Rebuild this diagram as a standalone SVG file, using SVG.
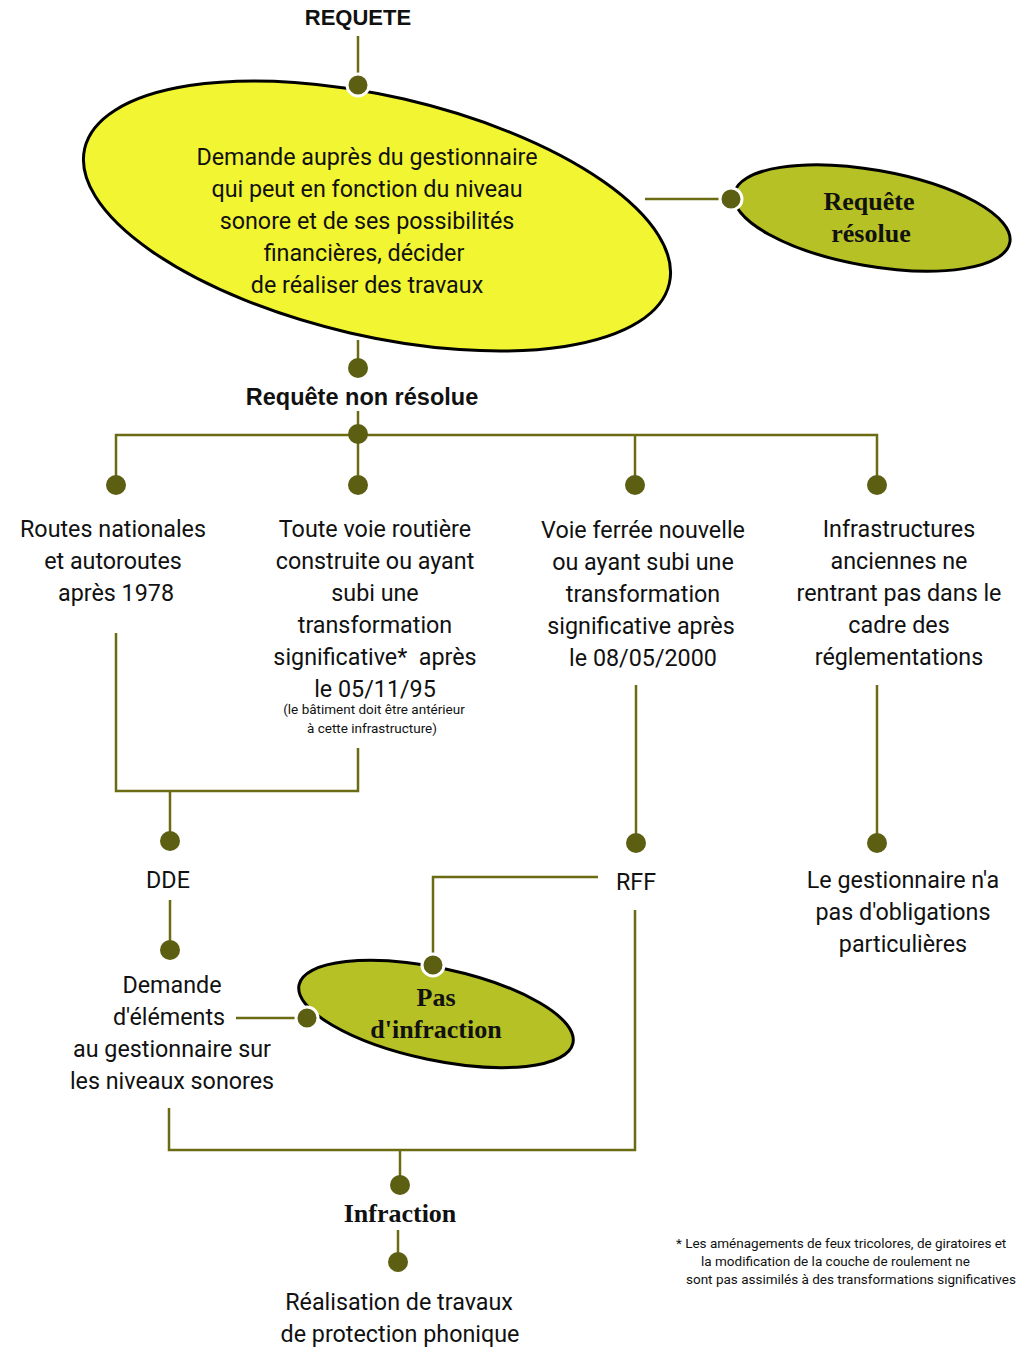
<svg xmlns="http://www.w3.org/2000/svg" width="1022" height="1347" viewBox="0 0 1022 1347">
<style>
.t{font-family:Roboto,"Liberation Sans",sans-serif;font-size:23.3px;fill:#111;text-anchor:middle}
.s{font-family:Roboto,"Liberation Sans",sans-serif;font-size:13.5px;fill:#111;text-anchor:middle}
.f{font-family:Roboto,"Liberation Sans",sans-serif;font-size:13.5px;fill:#111}
.bs{font-family:"Liberation Sans",Arial,sans-serif;font-weight:bold;fill:#111;text-anchor:middle}
.bf{font-family:"Liberation Serif","Times New Roman",serif;font-weight:bold;font-size:26px;fill:#111;text-anchor:middle}
.c{fill:none;stroke:#6b6b14;stroke-width:2.5}
.d{fill:#5c5e12}
.dw{fill:#5c5e12;stroke:#fff;stroke-width:3}
.e1{fill:#f2f531;stroke:#000;stroke-width:3}
.e2{fill:#b5c124;stroke:#000;stroke-width:3}
</style>
<rect width="1022" height="1347" fill="#fff"/>
<g id="connectors">
<path class="c" d="M358 36V85"/>
<path class="c" d="M645 199H731"/>
<path class="c" d="M358 340V368"/>
<path class="c" d="M358 411V485"/>
<path class="c" d="M116 485V435H877V485"/>
<path class="c" d="M635 435V485"/>
<path class="c" d="M116 633V791H358V748"/>
<path class="c" d="M170 791V841"/>
<path class="c" d="M170 900V950"/>
<path class="c" d="M636 685V843"/>
<path class="c" d="M877 685V843"/>
<path class="c" d="M598 877H433V965"/>
<path class="c" d="M236 1018H307"/>
<path class="c" d="M635 910V1150H169V1108"/>
<path class="c" d="M400 1150V1185"/>
<path class="c" d="M398 1230V1262"/>
</g>
<g id="requete"><text class="bs" x="358" y="25" font-size="22">REQUETE</text></g>
<g id="demande-gestionnaire">
<ellipse class="e1" cx="377" cy="216" rx="300" ry="120" transform="rotate(13 377 216)"/>
<text class="t" x="367" y="165">Demande auprès du gestionnaire</text>
<text class="t" x="367" y="197">qui peut en fonction du niveau</text>
<text class="t" x="367" y="229">sonore et de ses possibilités</text>
<text class="t" x="364" y="261">financières, décider</text>
<text class="t" x="367" y="293">de réaliser des travaux</text>
</g>
<g id="requete-resolue">
<ellipse class="e2" cx="872" cy="218" rx="140" ry="48" transform="rotate(10 872 218)"/>
<text class="bf" x="869" y="210">Requête</text>
<text class="bf" x="871" y="242">résolue</text>
</g>
<g id="non-resolue"><text class="bs" x="362" y="405" font-size="23.5">Requête non résolue</text></g>
<g id="routes-nationales">
<text class="t" x="113" y="537">Routes nationales</text>
<text class="t" x="113" y="569">et autoroutes</text>
<text class="t" x="116" y="601">après 1978</text>
</g>
<g id="voie-routiere">
<text class="t" x="375" y="537">Toute voie routière</text>
<text class="t" x="375" y="569">construite ou ayant</text>
<text class="t" x="375" y="601">subi une</text>
<text class="t" x="375" y="633">transformation</text>
<text class="t" x="375" y="665" xml:space="preserve">significative*  après</text>
<text class="t" x="375" y="697">le 05/11/95</text>
<text class="s" x="374" y="714">(le bâtiment doit être antérieur</text>
<text class="s" x="372" y="733">à cette infrastructure)</text>
</g>
<g id="voie-ferree">
<text class="t" x="643" y="538">Voie ferrée nouvelle</text>
<text class="t" x="643" y="570">ou ayant subi une</text>
<text class="t" x="643" y="602">transformation</text>
<text class="t" x="641" y="634">significative après</text>
<text class="t" x="643" y="666">le 08/05/2000</text>
</g>
<g id="infrastructures-anciennes">
<text class="t" x="899" y="537">Infrastructures</text>
<text class="t" x="899" y="569">anciennes ne</text>
<text class="t" x="899" y="601">rentrant pas dans le</text>
<text class="t" x="899" y="633">cadre des</text>
<text class="t" x="899" y="665">réglementations</text>
</g>
<g id="dde"><text class="t" x="168" y="888">DDE</text></g>
<g id="rff"><text class="t" x="636" y="890">RFF</text></g>
<g id="pas-obligations">
<text class="t" x="903" y="888">Le gestionnaire n'a</text>
<text class="t" x="903" y="920">pas d'obligations</text>
<text class="t" x="903" y="952">particulières</text>
</g>
<g id="demande-elements">
<text class="t" x="172" y="993">Demande</text>
<text class="t" x="169" y="1025">d'éléments</text>
<text class="t" x="172" y="1057">au gestionnaire sur</text>
<text class="t" x="172" y="1089">les niveaux sonores</text>
</g>
<g id="pas-infraction">
<ellipse class="e2" cx="436" cy="1014" rx="140" ry="46" transform="rotate(12 436 1014)"/>
<text class="bf" x="436" y="1006">Pas</text>
<text class="bf" x="436" y="1038">d'infraction</text>
</g>
<g id="infraction"><text class="bf" x="400" y="1222">Infraction</text></g>
<g id="realisation">
<text class="t" x="399" y="1310">Réalisation de travaux</text>
<text class="t" x="400" y="1342">de protection phonique</text>
</g>
<g id="footnote">
<text class="f" x="676" y="1248">* Les aménagements de feux tricolores, de giratoires et</text>
<text class="f" x="701" y="1266">la modification de la couche de roulement ne</text>
<text class="f" x="686" y="1284">sont pas assimilés à des transformations significatives</text>
</g>
<g id="dots">
<circle class="dw" cx="358" cy="85" r="11"/>
<circle class="dw" cx="731" cy="199" r="11"/>
<circle class="d" cx="358" cy="368" r="10"/>
<circle class="d" cx="358" cy="434" r="10"/>
<circle class="d" cx="116" cy="485" r="10"/>
<circle class="d" cx="358" cy="485" r="10"/>
<circle class="d" cx="635" cy="485" r="10"/>
<circle class="d" cx="877" cy="485" r="10"/>
<circle class="d" cx="170" cy="841" r="10"/>
<circle class="d" cx="170" cy="950" r="10"/>
<circle class="d" cx="636" cy="843" r="10"/>
<circle class="d" cx="877" cy="843" r="10"/>
<circle class="dw" cx="433" cy="965" r="11"/>
<circle class="dw" cx="307" cy="1018" r="11"/>
<circle class="d" cx="400" cy="1185" r="10"/>
<circle class="d" cx="398" cy="1262" r="10"/>
</g>
</svg>
